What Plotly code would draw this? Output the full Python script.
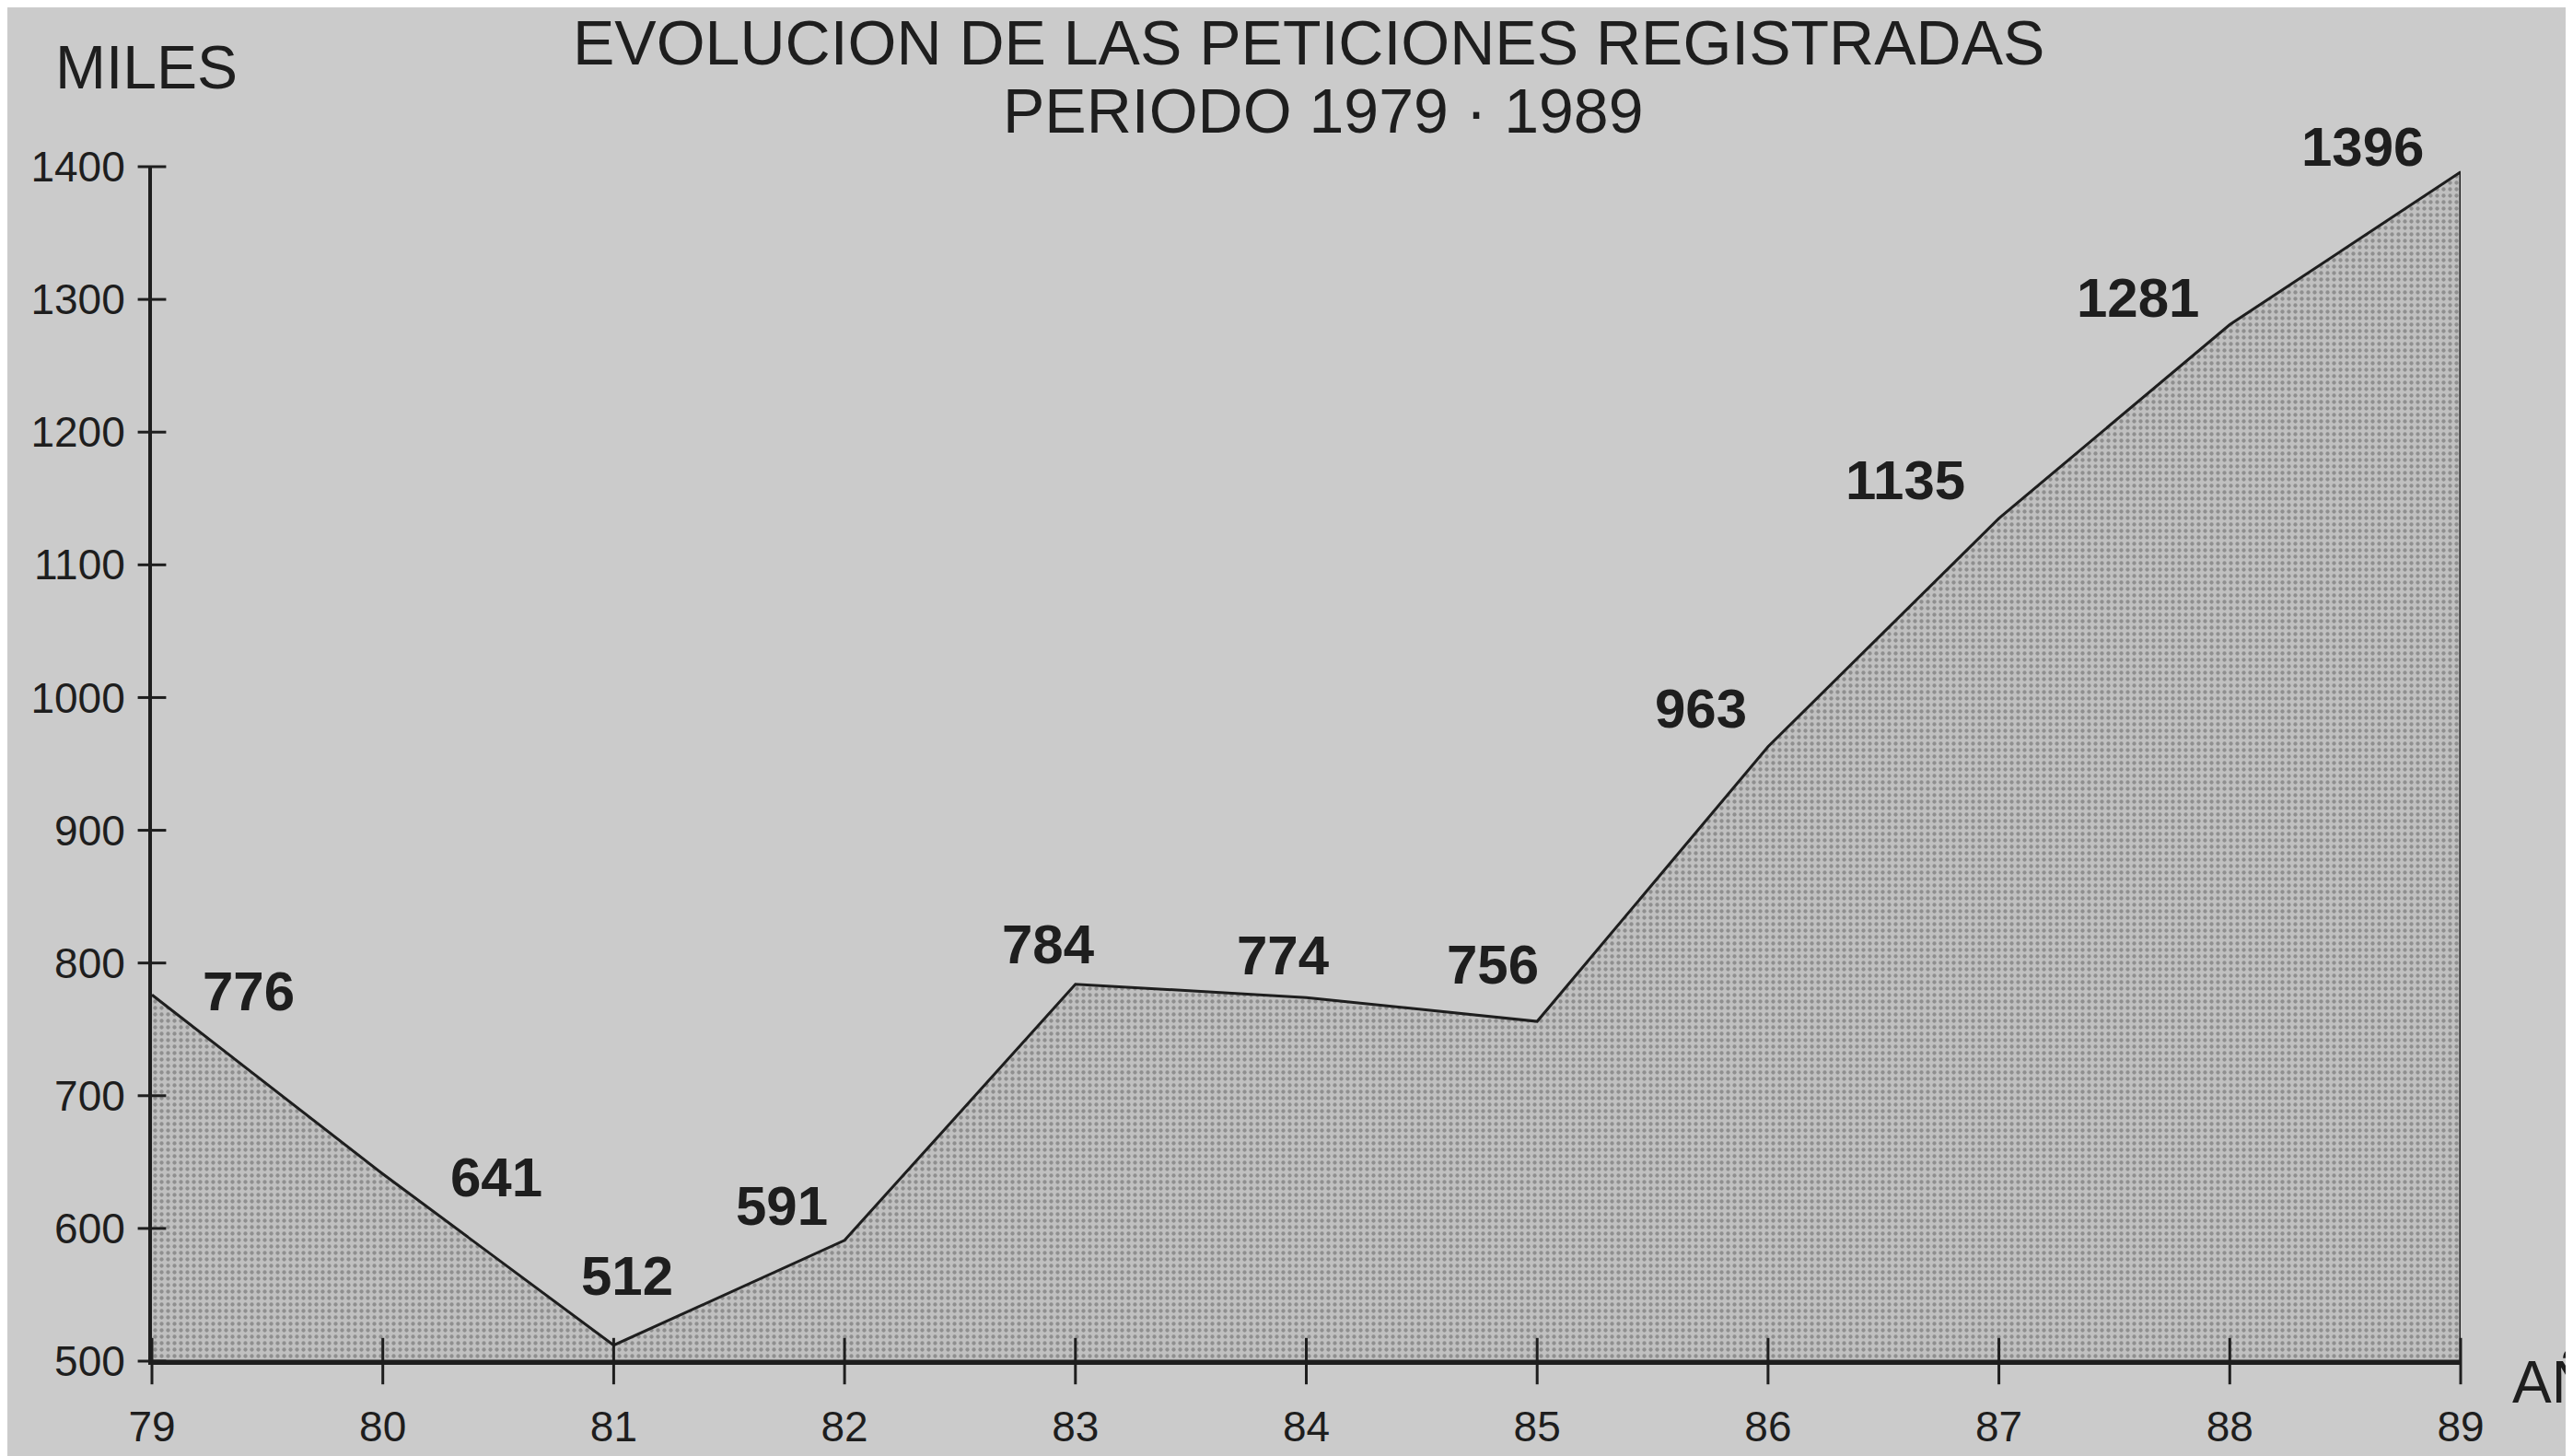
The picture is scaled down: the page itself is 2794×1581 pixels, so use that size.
import plotly.graph_objects as go

years = [79, 80, 81, 82, 83, 84, 85, 86, 87, 88, 89]
values = [776, 641, 512, 591, 784, 774, 756, 963, 1135, 1281, 1396]
y_ticks = [500, 600, 700, 800, 900, 1000, 1100, 1200, 1300, 1400]
x_tick_labels = ["79", "80", "81", "82", "83", "84", "85", "86", "87", "88", "89"]

title_1 = "EVOLUCION DE LAS PETICIONES REGISTRADAS"
title_2 = "PERIODO 1979 · 1989"
y_unit = "MILES"
x_unit = "AÑOS"

# label offsets in pixels (style, not data)
label_dx = [105, 123, 15, -68, -29, -25, -48, -73, -102, -100, -107]
label_dy = [4, -4, 75, 37, 43, 46, 62, 41, 41, 29, 27]

PAPER = "#cbcbcb"
INK = "#1e1e1e"
FONT = "Liberation Sans, Arial, sans-serif"

base = y_ticks[0]
fig = go.Figure()

# shaded area polygon closed down to the axis base
fig.add_trace(go.Scatter(
    x=years + [years[-1], years[0]],
    y=values + [base, base],
    mode="lines",
    fill="toself",
    fillcolor="#bdbdbd",
    fillpattern=dict(shape=".", fgcolor="#5e5e5e", bgcolor="#c0c0c0", size=7, solidity=0.3),
    line=dict(color=INK, width=3),
    hoverinfo="skip",
    showlegend=False,
))

# crossing tick marks on y axis
fig.add_trace(go.Scatter(
    x=[years[0]] * len(y_ticks), y=y_ticks, mode="markers",
    marker=dict(symbol="line-ew", size=22, line=dict(color=INK, width=3)),
    cliponaxis=False, hoverinfo="skip", showlegend=False,
))
# crossing tick marks on x axis
fig.add_trace(go.Scatter(
    x=years, y=[base] * len(years), mode="markers",
    marker=dict(symbol="line-ns", size=36, line=dict(color=INK, width=3)),
    cliponaxis=False, hoverinfo="skip", showlegend=False,
))

annotations = []
for x, v, dx, dy in zip(years, values, label_dx, label_dy):
    annotations.append(dict(
        x=x, y=v, xref="x", yref="y", text="<b>%d</b>" % v, showarrow=False,
        xshift=dx, yshift=dy, font=dict(family=FONT, size=60, color=INK),
    ))

annotations += [
    dict(x=0.501, y=1.104, xref="paper", yref="paper", text=title_1, showarrow=False,
         xanchor="center", yanchor="middle", font=dict(family=FONT, size=68, color=INK)),
    dict(x=0.507, y=1.047, xref="paper", yref="paper", text=title_2, showarrow=False,
         xanchor="center", yanchor="middle", font=dict(family=FONT, size=68, color=INK)),
    dict(x=-0.0427, y=1.083, xref="paper", yref="paper", text=y_unit, showarrow=False,
         xanchor="left", yanchor="middle", font=dict(family=FONT, size=66, color=INK)),
    dict(x=1.0215, y=-0.018, xref="paper", yref="paper", text=x_unit, showarrow=False,
         xanchor="left", yanchor="middle", font=dict(family=FONT, size=64, color=INK)),
]

fig.update_layout(
    width=2794, height=1581,
    margin=dict(l=157, r=130, t=173, b=111),
    paper_bgcolor=PAPER, plot_bgcolor=PAPER,
    annotations=annotations,
    showlegend=False,
)
fig.update_xaxes(
    range=[years[0], years[-1]], tickvals=years, ticktext=x_tick_labels,
    showgrid=False, zeroline=False, showline=True, linecolor=INK, linewidth=4,
    ticks="", ticklabelstandoff=28,
    tickfont=dict(family=FONT, size=46, color=INK),
)
fig.update_yaxes(
    range=[y_ticks[0], y_ticks[-1]], tickvals=y_ticks,
    showgrid=False, zeroline=False, showline=True, linecolor=INK, linewidth=4,
    ticks="", ticklabelstandoff=16,
    tickfont=dict(family=FONT, size=46, color=INK),
)

fig.write_html("out.html")
